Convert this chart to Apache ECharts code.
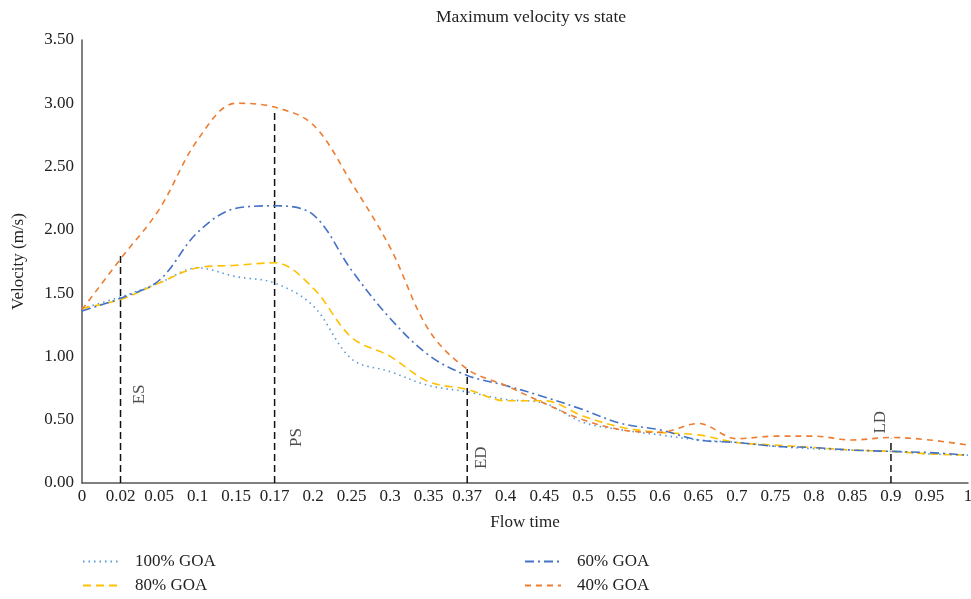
<!DOCTYPE html>
<html><head><meta charset="utf-8">
<script src="https://cdn.jsdelivr.net/npm/echarts@6/dist/echarts.min.js"></script>
<style>html,body{margin:0;padding:0;background:#fff}#c{width:971px;height:599px}</style>
</head><body><div id="c"></div>
<script>
const categories = ['0','0.02','0.05','0.1','0.15','0.17','0.2','0.25','0.3','0.35','0.37','0.4','0.45','0.5','0.55','0.6','0.65','0.7','0.75','0.8','0.85','0.9','0.95','1'];
const goa100 = [1.38,1.47,1.58,1.70,1.63,1.58,1.40,0.98,0.88,0.77,0.72,0.66,0.63,0.48,0.42,0.38,0.34,0.32,0.29,0.27,0.26,0.25,0.23,0.22];
const goa80  = [1.38,1.45,1.58,1.70,1.72,1.74,1.54,1.15,1.00,0.80,0.74,0.65,0.65,0.53,0.44,0.40,0.38,0.32,0.30,0.28,0.26,0.25,0.23,0.22];
const goa60  = [1.36,1.46,1.60,1.98,2.17,2.19,2.12,1.68,1.30,1.01,0.85,0.77,0.68,0.58,0.47,0.42,0.34,0.32,0.29,0.28,0.26,0.25,0.24,0.22];
const goa40  = [1.37,1.77,2.16,2.71,3.00,2.97,2.83,2.37,1.86,1.21,0.90,0.77,0.63,0.50,0.42,0.40,0.47,0.35,0.37,0.37,0.34,0.36,0.34,0.30];
const markerNames = ['ES','PS','ED','LD'];
const markerAt = ['0.02','0.17','0.37','0.9'];
const markerTop = [1.82,2.93,0.90,0.35];
const markerLabelY = [0.70,0.36,0.20,0.48];
const markerLabelDx = [19,22,14,-10];
const yTicks = [0,0.5,1,1.5,2,2.5,3,3.5];

const FONT = 'Liberation Serif';
const chart = echarts.init(document.getElementById('c'));
function lineSeries(name, data, color, type){
  return {name, type:'line', data, smooth:0.35, symbol:'none',
    lineStyle:{color, width:1.6, type}, itemStyle:{color}, z:3};
}
const markerLines = markerAt.map((c,i)=>({
  type:'line', data:[[c,0],[c,markerTop[i]]], symbol:'none', silent:true,
  lineStyle:{color:'#111', width:1.5, type:[7,4]}, z:2
}));
const markerLabels = {
  type:'scatter', symbolSize:0, silent:true, z:4,
  data: markerNames.map((n,i)=>({value:[markerAt[i], markerLabelY[i]],
    label:{show:true, formatter:n, rotate:90, offset:[0,markerLabelDx[i]], position:'inside',
      fontFamily:FONT, fontSize:17, color:'#222'}}))
};
const legendCommon = {orient:'vertical', top:553, itemWidth:36, itemHeight:10, itemGap:7, padding:0,
  itemStyle:{opacity:0, borderWidth:0},
  textStyle:{fontFamily:FONT, fontSize:17, color:'#222', padding:[0,0,0,11]}};
chart.setOption({
  animation:false,
  title:{text:'Maximum velocity vs state', left:526, textAlign:'center', top:3,
    textStyle:{fontFamily:FONT, fontSize:17.5, fontWeight:'normal', color:'#222'}},
  grid:{left:82, right:3, top:40, bottom:116, outerBoundsMode:'none', containLabel:false},
  legend:[
    Object.assign({data:['100% GOA','80% GOA'], left:82}, legendCommon),
    Object.assign({data:['60% GOA','40% GOA'], left:524}, legendCommon)
  ],
  xAxis:{type:'category', data:categories, boundaryGap:false,
    name:'Flow time', nameLocation:'middle', nameGap:31,
    nameTextStyle:{fontFamily:FONT, fontSize:17, color:'#222'},
    axisLine:{lineStyle:{color:'#555', width:1.5}}, axisTick:{show:false},
    axisLabel:{interval:0, fontFamily:FONT, fontSize:17, color:'#222', margin:5, hideOverlap:false}},
  yAxis:{type:'value', min:yTicks[0], max:yTicks[yTicks.length-1], interval:0.5,
    name:'Velocity (m/s)', nameLocation:'middle', nameGap:55,
    nameTextStyle:{fontFamily:FONT, fontSize:17, color:'#222'},
    axisLine:{show:true, lineStyle:{color:'#555', width:1.5}}, axisTick:{show:false}, splitLine:{show:false},
    axisLabel:{fontFamily:FONT, fontSize:17, color:'#222', margin:8, formatter:v=>v.toFixed(2)}},
  series:[
    lineSeries('100% GOA', goa100, '#5B9BD5', [1.5,4]),
    lineSeries('80% GOA', goa80, '#FFC000', [8,5]),
    lineSeries('60% GOA', goa60, '#4472C4', [9,4,2,4]),
    lineSeries('40% GOA', goa40, '#ED7D31', [6,5]),
    ...markerLines,
    markerLabels
  ]
});
</script></body></html>
